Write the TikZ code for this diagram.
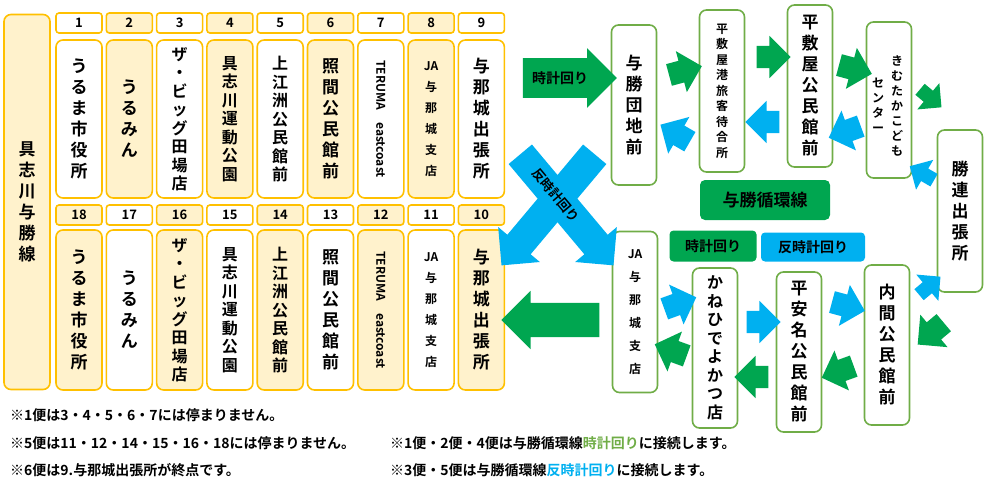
\documentclass[tikz,border=0pt]{standalone}
\usepackage{fontspec}
\setmainfont{Noto Sans CJK JP}[BoldFont={Noto Sans CJK JP Bold}]
\usetikzlibrary{positioning, shapes, shapes.arrows, calc}
\definecolor{ylw}{HTML}{FFC000}
\definecolor{ylwfill}{HTML}{FFF2CC}
\definecolor{grn}{HTML}{70AD47}
\definecolor{grnarr}{HTML}{00A650}
\definecolor{blu}{HTML}{00B0F0}
\tikzset{num/.style={draw=ylw,line width=1.6pt,rounded corners=3pt,minimum width=46pt,minimum height=20pt,inner sep=0pt,font=\bfseries\fontsize{13}{13}\selectfont},
  stop/.style={draw=ylw,line width=1.6pt,rounded corners=7pt,minimum width=46pt,inner sep=0pt,align=center,font=\bfseries\fontsize{17}{21}\selectfont},
  loop/.style={draw=grn,line width=1.6pt,rounded corners=7pt,fill=white,minimum width=45pt,inner sep=0pt,align=center,font=\bfseries\fontsize{17}{21}\selectfont},
  long/.style={font=\bfseries\fontsize{16}{18.5}\selectfont},
  arr/.style={single arrow,draw=none,inner xsep=0pt,inner ysep=11pt,single arrow head extend=10pt,minimum height=34pt},
  big/.style={single arrow,draw=none,inner xsep=0pt,inner ysep=17pt,single arrow head extend=12pt},
  note/.style={anchor=west,inner sep=0pt,font=\bfseries\fontsize{14}{14}\selectfont}}
\begin{document}
\begin{tikzpicture}[x=1pt,y=-1pt]
		\useasboundingbox (0,0) rectangle (991,495);
		% line box
		\node[stop,fill=ylwfill,minimum height=375pt] (line) at (27,202) {具\\志\\川\\与\\勝\\線};
		% upper row
		\foreach \i/\f in {1/white,2/ylwfill,3/white,4/ylwfill,5/white,6/ylwfill,7/white,8/ylwfill,9/white}
			\node[num,fill=\f] (n\i) at ({79+50.3*(\i-1)},23) {\i};
		\foreach \i/\f in {18/ylwfill,17/white,16/ylwfill,15/white,14/ylwfill,13/white,12/ylwfill,11/white,10/ylwfill}
			\node[num,fill=\f] (n\i) at ({79+50.3*(18-\i)},215) {\i};
		\node[stop,minimum height=158pt] (s1) at (79,119) {う\\る\\ま\\市\\役\\所};
		\node[stop,fill=ylwfill,minimum height=158pt] (s2) at (129.3,119) {う\\る\\み\\ん};
		\node[stop,long,minimum height=158pt] (s3) at (179.6,119) {ザ\\・\\ビ\\ッ\\グ\\田\\場\\店};
		\node[stop,long,fill=ylwfill,minimum height=158pt] (s4) at (229.9,119) {具\\志\\川\\運\\動\\公\\園};
		\node[stop,long,minimum height=158pt] (s5) at (280.2,119) {上\\江\\洲\\公\\民\\館\\前};
		\node[stop,fill=ylwfill,minimum height=158pt] (s6) at (330.5,119) {照\\間\\公\\民\\館\\前};
		\node[stop,minimum height=158pt] (s7) at (380.8,119) {};
		\node[stop,fill=ylwfill,minimum height=158pt,font=\bfseries\fontsize{12}{21}\selectfont] (s8) at (431.1,119) {JA\\与\\那\\城\\支\\店};
		\node[stop,minimum height=158pt] (s9) at (481.4,119) {与\\那\\城\\出\\張\\所};
		% lower row
		\node[stop,fill=ylwfill,minimum height=160pt] (s18) at (79,310) {う\\る\\ま\\市\\役\\所};
		\node[stop,minimum height=160pt] (s17) at (129.3,310) {う\\る\\み\\ん};
		\node[stop,long,fill=ylwfill,minimum height=160pt] (s16) at (179.6,310) {ザ\\・\\ビ\\ッ\\グ\\田\\場\\店};
		\node[stop,long,minimum height=160pt] (s15) at (229.9,310) {具\\志\\川\\運\\動\\公\\園};
		\node[stop,long,fill=ylwfill,minimum height=160pt] (s14) at (280.2,310) {上\\江\\洲\\公\\民\\館\\前};
		\node[stop,minimum height=160pt] (s13) at (330.5,310) {照\\間\\公\\民\\館\\前};
		\node[stop,fill=ylwfill,minimum height=160pt] (s12) at (380.8,310) {};
		\node[stop,minimum height=160pt,font=\bfseries\fontsize{12}{21}\selectfont] (s11) at (431.1,310) {JA\\与\\那\\城\\支\\店};
		\node[stop,fill=ylwfill,minimum height=160pt] (s10) at (481.4,310) {与\\那\\城\\出\\張\\所};
		\node[rotate=-90,font=\bfseries\fontsize{12}{13}\selectfont] (t7) at (s7) {TERUMA\quad eastcoast};
		\node[rotate=-90,font=\bfseries\fontsize{12}{13}\selectfont] (t12) at (s12) {TERUMA\quad eastcoast};
		% loop line
		\node[loop,minimum height=160pt] (yk) at (634,105) {与\\勝\\団\\地\\前};
		\node[loop,minimum height=162pt,font=\bfseries\fontsize{12}{15.5}\selectfont] (hk) at (722,91) {平\\敷\\屋\\港\\旅\\客\\待\\合\\所};
		\node[loop,minimum height=162pt] (hs) at (810,86) {平\\敷\\屋\\公\\民\\館\\前};
		\node[loop,minimum height=156pt] (km) at (889,100) {};
		\node[align=center,font=\bfseries\fontsize{12}{15}\selectfont,anchor=north] (km1) at (897,52) {き\\む\\た\\か\\こ\\ど\\も};
		\node[align=center,font=\bfseries\fontsize{12}{15}\selectfont,anchor=north] (km2) at (878,74) {セ\\ン\\タ\\ー};
		\node[loop,minimum height=162pt] (kr) at (960,211) {勝\\連\\出\\張\\所};
		\node[loop,minimum height=161pt,font=\bfseries\fontsize{12}{23}\selectfont] (ja) at (635,312) {JA\\与\\那\\城\\支\\店};
		\node[loop,long,minimum height=160pt] (kn) at (715,348) {か\\ね\\ひ\\で\\よ\\か\\つ\\店};
		\node[loop,minimum height=160pt] (hn) at (799,352) {平\\安\\名\\公\\民\\館\\前};
		\node[loop,minimum height=160pt] (um) at (887,345) {内\\間\\公\\民\\館\\前};
		\node[fill=grnarr,rounded corners=5pt,minimum width=130pt,minimum height=40pt,font=\bfseries\fontsize{17}{17}\selectfont] (ttl) at (765,200) {与勝循環線};
		\node[fill=grnarr,rounded corners=4pt,minimum width=87pt,minimum height=31pt,font=\bfseries\fontsize{14}{14}\selectfont] (cw) at (713,246) {時計回り};
		\node[fill=blu,rounded corners=4pt,minimum width=104pt,minimum height=29pt,font=\bfseries\fontsize{14}{14}\selectfont] (ccw) at (813,247) {反時計回り};
		% big arrows
		\node[big,fill=grnarr,minimum height=94pt,inner ysep=13pt,inner xsep=3pt,single arrow head extend=10pt,font=\bfseries\fontsize{14}{14}\selectfont] (cwin) at (560,78) {時計回り\hspace{18pt}};
		\node[big,fill=grnarr,minimum height=98pt,rotate=180] (out) at (559,320) {};
		\node[big,fill=blu,minimum height=145pt,inner ysep=15pt,rotate=-50] (xa) at (562,204) {};
		\node[big,fill=blu,minimum height=145pt,inner ysep=15pt,rotate=230] (xb) at (553,204) {};
		\node[rotate=-50,font=\bfseries\fontsize{13}{13}\selectfont] (xl) at (556,195) {反時計回り};
		% small arrows
		\node[arr,fill=grnarr,rotate=15] (g1) at (680,72) {};
		\node[arr,fill=blu,rotate=150] (b1) at (680,136) {};
		\node[arr,fill=grnarr] (g2) at (768,57) {};
		\node[arr,fill=blu,rotate=180] (b2) at (768,122) {};
		\node[arr,fill=grnarr,rotate=-15] (g3) at (850,68) {};
		\node[arr,fill=blu,rotate=200] (b3) at (850,130) {};
		\node[arr,fill=grnarr,rotate=-40,inner ysep=7pt,minimum height=28pt] (g4) at (928,96) {};
		\node[arr,fill=blu,rotate=150,inner ysep=7pt,minimum height=28pt] (b4) at (925,175) {};
		\node[arr,fill=blu,rotate=40,inner ysep=7pt,minimum height=28pt] (b5) at (927,288) {};
		\node[arr,fill=grnarr,rotate=220] (g5) at (935,330) {};
		\node[arr,fill=blu,rotate=-15] (b6) at (843,305) {};
		\node[arr,fill=grnarr,rotate=200] (g6) at (843,370) {};
		\node[arr,fill=blu] (b7) at (758,322) {};
		\node[arr,fill=grnarr,rotate=180] (g7) at (757,377) {};
		\node[arr,fill=blu,rotate=20] (b8) at (675,305) {};
		\node[arr,fill=grnarr,rotate=160] (g8) at (676,352) {};
		% notes
		\node[note] (m1) at (10,415) {※1便は3・4・5・6・7には停まりません。};
		\node[note] (m2) at (10,443) {※5便は11・12・14・15・16・18には停まりません。};
		\node[note] (m3) at (10,470) {※6便は9.与那城出張所が終点です。};
		\node[note] (m4) at (390,443) {※1便・2便・4便は与勝循環線\textcolor{grn}{時計回り}に接続します。};
		\node[note] (m5) at (390,470) {※3便・5便は与勝循環線\textcolor{blu}{反時計回り}に接続します。};
	\end{tikzpicture}
\end{document}
